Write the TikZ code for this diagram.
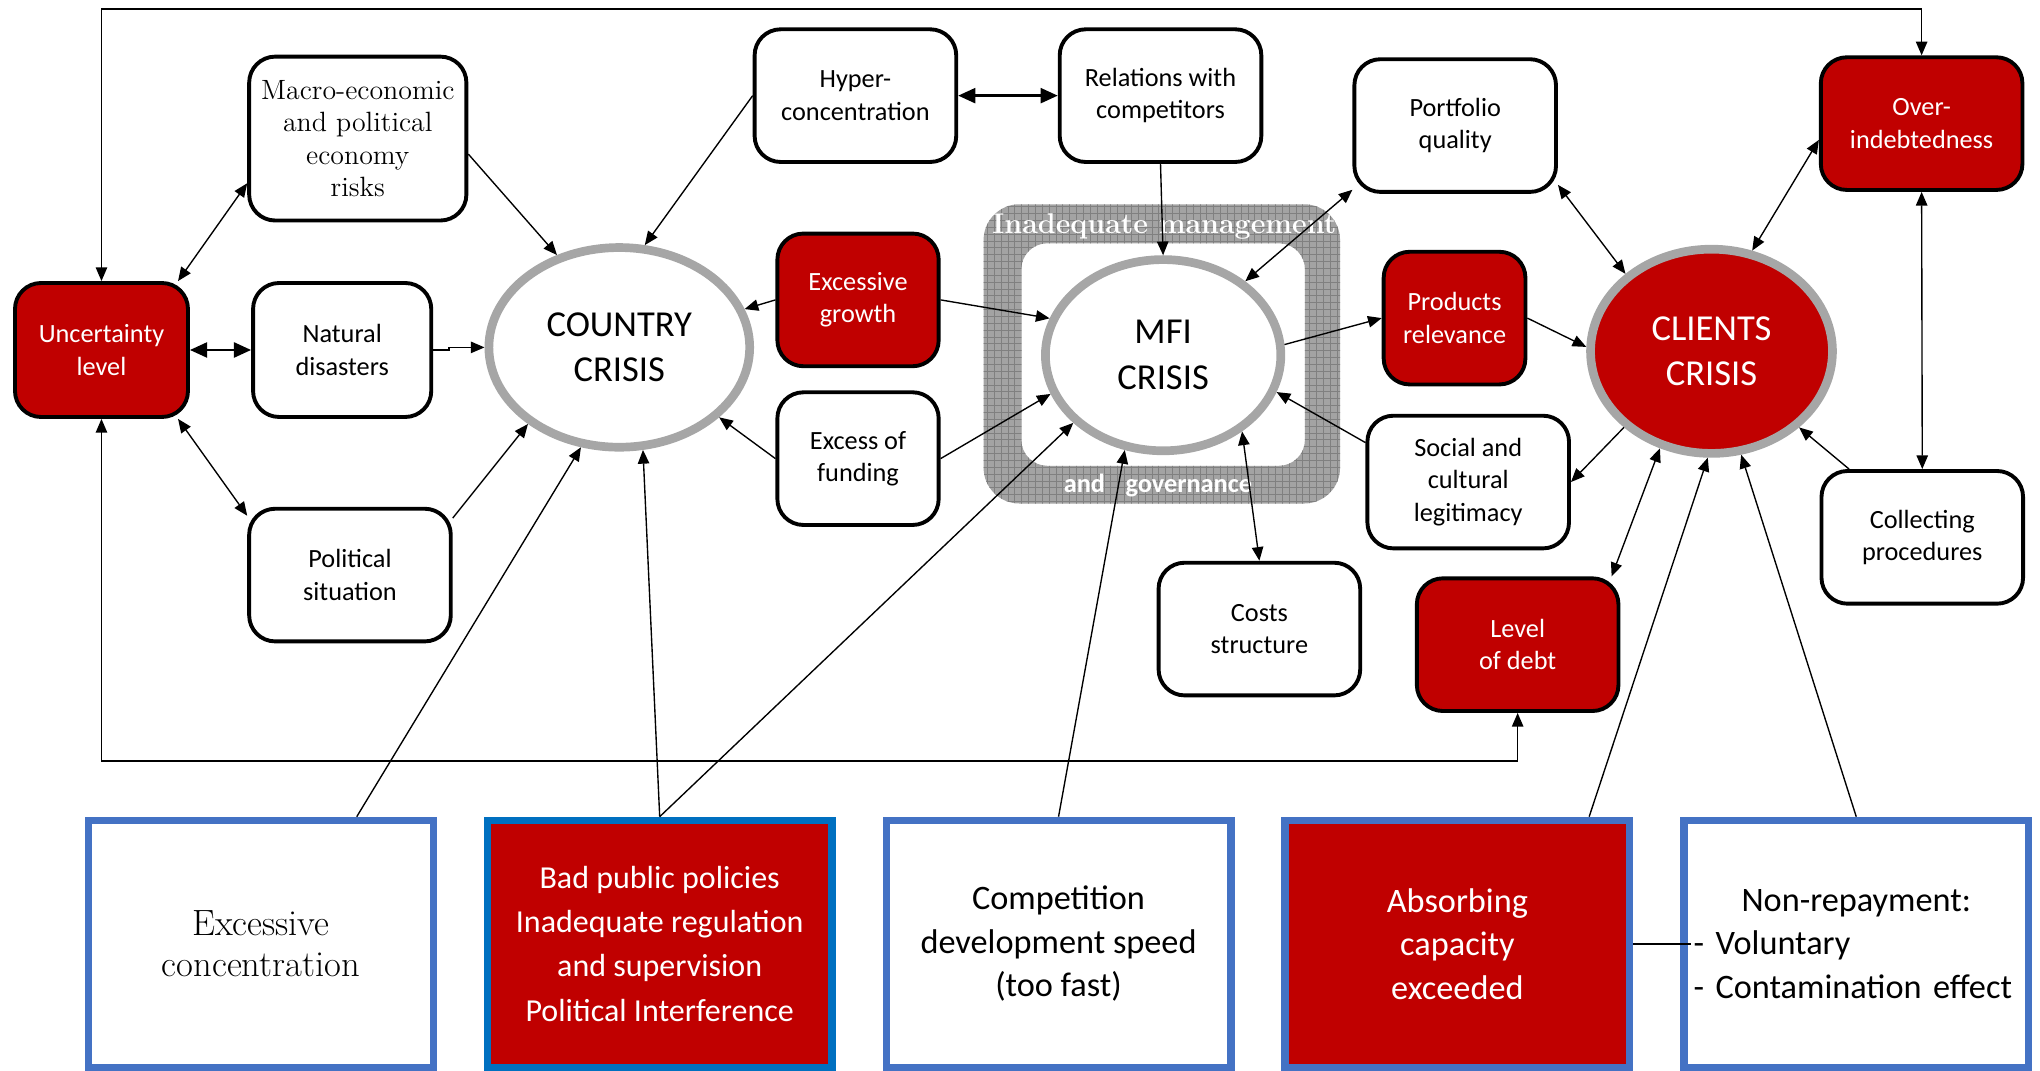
\documentclass[tikz,border=0pt]{standalone}
\usepackage{fontspec}
\setsansfont{Carlito}
\usetikzlibrary{arrows.meta, positioning, shapes.geometric, patterns}
\definecolor{crisisred}{HTML}{C00000}
\definecolor{ringgray}{HTML}{A6A6A6}
\definecolor{causeblue}{HTML}{4472C4}
\definecolor{policyblue}{HTML}{0070C0}
\newcommand{\factorfont}{\sffamily\fontsize{11.5}{14.2}\selectfont}
\newcommand{\seriffont}{\rmfamily\fontsize{12.2}{14.2}\selectfont}

\begin{document}
\begin{tikzpicture}[x=0.02cm, y=-0.02cm, semithick,
    >={Triangle[length=6pt,width=5pt]},
    factor/.style={draw, line width=1.7pt, rounded corners=0.4cm, fill=white,
        align=center, inner sep=1pt, font=\factorfont},
    redfactor/.style={factor, fill=crisisred, text=white},
    widebox/.style={minimum width=3.1cm, minimum height=2.04cm},
    narrowbox/.style={minimum width=2.48cm, minimum height=2.04cm},
    crisis/.style={ellipse, draw=ringgray, line width=3.8pt, fill=white,
        align=center, inner sep=0pt, font=\sffamily\fontsize{16}{20}\selectfont},
    cause/.style={draw=causeblue, line width=3.2pt, fill=white, minimum width=5.3cm,
        minimum height=3.8cm, align=center, font=\sffamily\fontsize{15}{19}\selectfont},
    redcause/.style={cause, fill=crisisred, text=white},
    boldlink/.style={line width=1.2pt, >={Triangle[length=7.5pt,width=6.5pt]}}]

    \useasboundingbox (0,0) rectangle (1568,823);

    % inadequate management and governance frame
    \fill[black!36, even odd rule] [rounded corners=0.55cm] (756,157) rectangle (1030,387)
        [rounded corners=0.4cm] (785,187) rectangle (1003,358);
    \fill[pattern=grid, pattern color=black!50, even odd rule] [rounded corners=0.55cm] (756,157) rectangle (1030,387)
        [rounded corners=0.4cm] (785,187) rectangle (1003,358);
    \node[text=white, font=\rmfamily\bfseries\fontsize{12.5}{14}\selectfont] (govtop) at (895,174) {Inadequate management};
    \node[text=white, font=\sffamily\bfseries\fontsize{11.5}{14}\selectfont] (govbottom) at (890,373) {and\hspace{9pt}governance};

    \node[redfactor, minimum width=2.66cm, minimum height=2.06cm] (unc) at (78,269) {Uncertainty\\level};
    \node[factor, font=\seriffont, minimum width=3.34cm, minimum height=2.52cm] (macro) at (275,106.5) {Macro-economic\\and political\\economy\\risks};
    \node[factor, minimum width=2.74cm, minimum height=2.06cm] (natural) at (263,269) {Natural\\disasters};
    \node[factor, widebox] (political) at (269,442) {Political\\situation};
    \node[crisis, minimum width=4.01cm, minimum height=3.07cm] (country) at (476,267) {COUNTRY\\CRISIS};
    \node[factor, widebox] (hyper) at (657.5,73.5) {Hyper-\\concentration};
    \node[factor, widebox] (relations) at (892,73.5) {Relations with\\competitors};
    \node[redfactor, narrowbox] (growth) at (659.5,230.5) {Excessive\\growth};
    \node[factor, narrowbox] (funding) at (659.5,352.5) {Excess of\\funding};
    \node[crisis, minimum width=3.62cm, minimum height=2.94cm] (mfi) at (894,273) {MFI\\CRISIS};
    \node[factor, widebox] (portfolio) at (1118.5,96.5) {Portfolio\\quality};
    \node[redfactor, minimum width=2.18cm, minimum height=2.04cm] (products) at (1118,244.5) {Products\\relevance};
    \node[factor, widebox] (social) at (1128.5,370.5) {Social and\\cultural\\legitimacy};
    \node[factor, widebox] (costs) at (968,483.5) {Costs\\structure};
    \node[redfactor, widebox] (debt) at (1166.5,495.5) {Level\\of debt};
    \node[crisis, fill=crisisred, text=white, minimum width=3.72cm, minimum height=3.14cm] (clients) at (1315.5,270) {CLIENTS\\CRISIS};
    \node[redfactor, widebox] (overdebt) at (1477,95) {Over-\\indebtedness};
    \node[factor, widebox] (collecting) at (1477.5,413) {Collecting\\procedures};

    \node[cause, font=\rmfamily\fontsize{16}{17.8}\selectfont] (conc) at (200.5,725.5) {Excessive\\concentration};
    \node[redcause, draw=policyblue, font=\sffamily\fontsize{14}{19.3}\selectfont, right=0.72cm of conc] (policies) {Bad public policies\\Inadequate regulation\\and supervision\\Political Interference};
    \node[cause, right=0.72cm of policies] (speed) {Competition\\development speed\\(too fast)};
    \node[redcause, right=0.72cm of speed] (absorb) {Absorbing\\capacity\\exceeded};
    \node[cause, right=0.72cm of absorb, text width=5cm, align=left] (repay) {\hfil Non-repayment:\\- Voluntary\\- Contamination effect};

    \coordinate (topline) at (0,7);
    \coordinate (bottomline) at (0,585);
    \draw[<->] (unc.north) -- (unc.north |- topline) -| (overdebt.north);
    \draw[<->] (unc.south) -- (unc.south |- bottomline) -| (debt.south);

    \draw[<->] (unc.42) -- (macro.202);
    \draw[<->, boldlink] (unc.east) -- (natural.west);
    \draw[<->] (unc.-42) -- (political.150);
    \draw[->] (macro.-8) -- (country.124);
    \draw[->] (natural.east) -- ++(12,0) |- (country.west);
    \draw[->] (political.29) -- (country.220);
    \draw[->] (hyper.west) -- (country.76);
    \draw[<->, boldlink] (hyper.east) -- (relations.west);
    \draw[->] (relations.south) -- (mfi.north);
    \draw[->] (growth.west) -- (country.17);
    \draw[->] (growth.east) -- (mfi.162);
    \draw[->] (funding.west) -- (country.-35);
    \draw[->] (funding.east) -- (mfi.199);
    \draw[<->] (mfi.42) -- (portfolio.212);
    \draw[->] (mfi.5) -- (products.west);
    \draw[->] (social.159) -- (mfi.-18);
    \draw[<->] (mfi.-44) -- (costs.north);
    \draw[<->] (portfolio.-30) -- (clients.138);
    \draw[->] (products.east) -- (clients.178);
    \draw[->] (clients.221) -- (social.east);
    \draw[<->] (clients.242) -- (debt.36);
    \draw[<->] (clients.68) -- (overdebt.189);
    \draw[<->] (overdebt.south) -- (collecting.north);
    \draw[->] (collecting.137) -- (clients.-41);

    \draw[->] (conc.53) -- (country.249);
    \draw[->] (policies.north) -- (country.-77);
    \draw[->] (policies.north) -- (mfi.217);
    \draw[->] (speed.north) -- (mfi.248);
    \draw[->] (absorb.44) -- (clients.268);
    \draw[->] (repay.north) -- (clients.-74);
    \draw[line width=1pt] (absorb.east) -- ([xshift=0.16cm]repay.west);
\end{tikzpicture}
\end{document}
